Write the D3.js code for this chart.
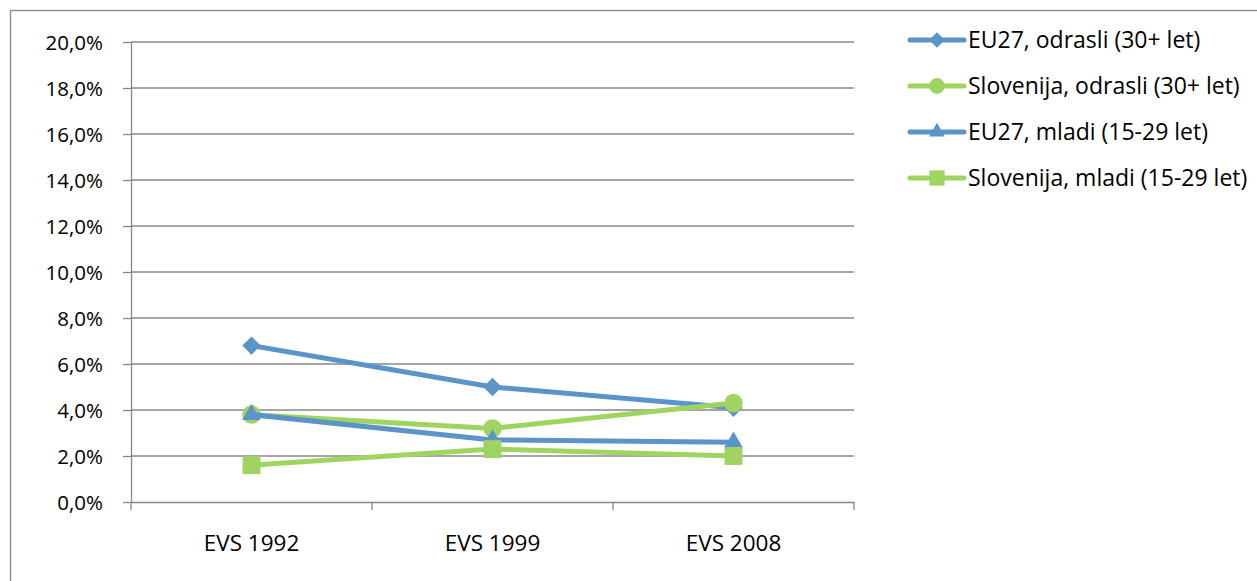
<!DOCTYPE html>
<html>
<head>
<meta charset="utf-8">
<script src="https://cdn.jsdelivr.net/npm/d3@7"></script>
<style>
    body { margin: 0; background: #fff; }
    svg { display: block; font-family: "Open Sans", sans-serif; }
    .grid line { stroke: #878787; stroke-width: 1.3; }
    .axis path, .axis line { stroke: #878787; stroke-width: 1.3; }
    .axis text { fill: #000; font-family: "Open Sans", sans-serif; }
</style>
</head>
<body>
<svg class="chart" width="1257" height="581"></svg>
<script>
var categories = ["EVS 1992", "EVS 1999", "EVS 2008"];
var yTicks = [0, 2, 4, 6, 8, 10, 12, 14, 16, 18, 20];
var seriesNames = [
    "EU27, odrasli (30+ let)",
    "Slovenija, odrasli (30+ let)",
    "EU27, mladi (15-29 let)",
    "Slovenija, mladi (15-29 let)"
];
var eu27Odrasli = [6.8, 5.0, 4.1];
var sloOdrasli = [3.8, 3.2, 4.3];
var eu27Mladi = [3.8, 2.7, 2.6];
var sloMladi = [1.6, 2.3, 2.0];

var blue = "#5b94c9";
var green = "#9fd461";

var series = [
    { name: seriesNames[0], values: eu27Odrasli, color: blue, marker: "diamond" },
    { name: seriesNames[1], values: sloOdrasli, color: green, marker: "circle" },
    { name: seriesNames[2], values: eu27Mladi, color: blue, marker: "triangle" },
    { name: seriesNames[3], values: sloMladi, color: green, marker: "square" }
];

var svg = d3.select("svg.chart");
var plot = { left: 131, right: 854, top: 42, bottom: 502 };

// outer chart frame, right and bottom edges fall outside the picture
svg.append("rect")
    .attr("x", 10.5)
    .attr("y", 10.5)
    .attr("width", 1300)
    .attr("height", 600)
    .attr("fill", "none")
    .attr("stroke", "#878787")
    .attr("stroke-width", 1.3);

var x = d3.scaleBand()
    .domain(categories)
    .range([plot.left, plot.right]);

var y = d3.scaleLinear()
    .domain([0, 20])
    .range([plot.bottom, plot.top]);

svg.append("g")
    .classed("grid", true)
    .selectAll("line")
    .data(yTicks.slice(1))
    .enter()
    .append("line")
    .attr("x1", plot.left)
    .attr("x2", plot.right)
    .attr("y1", function (d) { return y(d); })
    .attr("y2", function (d) { return y(d); });

var yAxis = svg.append("g")
    .classed("axis", true)
    .attr("transform", "translate(" + plot.left + ",0)")
    .call(d3.axisLeft(y)
        .tickValues(yTicks)
        .tickSize(8)
        .tickPadding(20)
        .tickSizeOuter(0)
        .tickFormat(function (d) { return d.toFixed(1).replace(".", ",") + "%"; }));
yAxis.selectAll("text")
    .style("font-size", "20.5px")
    .attr("dy", "0.36em");

var xAxis = svg.append("g")
    .classed("axis", true)
    .attr("transform", "translate(0," + plot.bottom + ")")
    .call(d3.axisBottom(x).tickSize(0).tickSizeOuter(0).tickPadding(0));
xAxis.selectAll(".tick line").remove();
xAxis.selectAll("text")
    .attr("y", 49)
    .attr("dy", 0)
    .style("font-size", "22.5px");
xAxis.selectAll("line.sep")
    .data(categories.concat([null]))
    .enter()
    .append("line")
    .classed("sep", true)
    .attr("x1", function (d, i) { return plot.left + i * x.bandwidth(); })
    .attr("x2", function (d, i) { return plot.left + i * x.bandwidth(); })
    .attr("y1", 0)
    .attr("y2", 8);

function markerPath(kind, scale) {
    var s = scale || 1;
    if (kind === "diamond") {
        return d3.symbol().type(d3.symbolSquare).size(170 * s * s)();
    }
    if (kind === "circle") {
        return d3.symbol().type(d3.symbolCircle).size(270 * s * s)();
    }
    if (kind === "triangle") {
        return d3.symbol().type(d3.symbolTriangle).size(150 * s * s)();
    }
    return d3.symbol().type(d3.symbolSquare).size(320 * s * s)();
}

function markerTransform(kind, px, py) {
    return "translate(" + px + "," + py + ")" + (kind === "diamond" ? " rotate(45)" : "");
}

var line = d3.line()
    .x(function (d, i) { return x(categories[i]) + x.bandwidth() / 2; })
    .y(function (d) { return y(d); });

var seriesGroups = svg.selectAll("g.series")
    .data(series)
    .enter()
    .append("g")
    .classed("series", true);

seriesGroups.each(function (s) {
    var g = d3.select(this);
    g.append("path")
        .attr("d", line(s.values))
        .attr("fill", "none")
        .attr("stroke", s.color)
        .attr("stroke-width", 5)
        .attr("stroke-linejoin", "round")
        .attr("stroke-linecap", "round");
    g.selectAll("path.marker")
        .data(s.values)
        .enter()
        .append("path")
        .classed("marker", true)
        .attr("d", markerPath(s.marker))
        .attr("transform", function (d, i) {
            return markerTransform(s.marker, x(categories[i]) + x.bandwidth() / 2, y(d));
        })
        .attr("fill", s.color);
});

var legend = svg.append("g")
    .attr("transform", "translate(910,40)");

var legendRows = legend.selectAll("g.row")
    .data(series)
    .enter()
    .append("g")
    .classed("row", true)
    .attr("transform", function (d, i) { return "translate(0," + i * 46 + ")"; });

legendRows.append("line")
    .attr("x1", 0)
    .attr("x2", 54)
    .attr("stroke", function (d) { return d.color; })
    .attr("stroke-width", 5)
    .attr("stroke-linecap", "round");

legendRows.append("path")
    .attr("d", function (d) { return markerPath(d.marker, 0.85); })
    .attr("transform", function (d) { return markerTransform(d.marker, 27, 0); })
    .attr("fill", function (d) { return d.color; });

legendRows.append("text")
    .attr("x", 58)
    .attr("dy", "0.36em")
    .style("font-size", "23px")
    .text(function (d) { return d.name; });
</script>
</body>
</html>
